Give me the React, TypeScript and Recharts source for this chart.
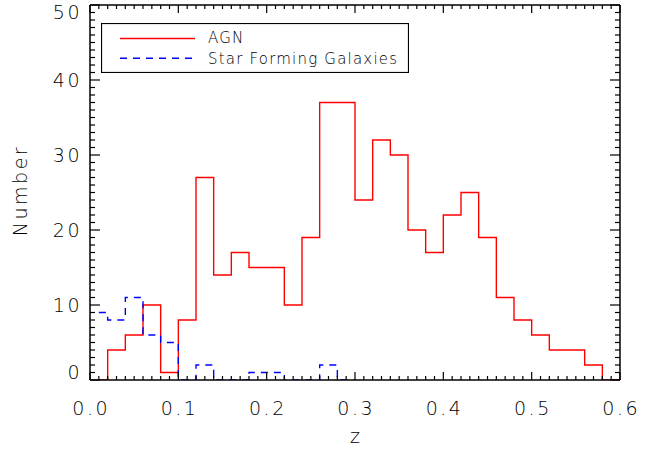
import { LineChart, Line, XAxis, YAxis, Legend } from "recharts";

// histogram bin centres (dz = 0.02) and counts per bin
const binCenters = [
  0.01, 0.03, 0.05, 0.07, 0.09, 0.11, 0.13, 0.15, 0.17, 0.19,
  0.21, 0.23, 0.25, 0.27, 0.29, 0.31, 0.33, 0.35, 0.37, 0.39,
  0.41, 0.43, 0.45, 0.47, 0.49, 0.51, 0.53, 0.55, 0.57, 0.59,
];
const agnCounts = [
  0, 4, 6, 10, 1, 8, 27, 14, 17, 15,
  15, 10, 19, 37, 37, 24, 32, 30, 20, 17,
  22, 25, 19, 11, 8, 6, 4, 4, 2, 0,
];
const sfCounts = [9, 8, 11, 6, 5, 0, 2, 0, 0, 1, 1, 0, 0, 2, 0];

// where each histogram line stops
const agnEnd = 0.6;
const sfEnd = 0.3;

const xMajorTicks = [0.0, 0.1, 0.2, 0.3, 0.4, 0.5, 0.6];
const yMajorTicks = [0, 10, 20, 30, 40, 50];
const X_DOMAIN: [number, number] = [0, 0.6];
const Y_DOMAIN: [number, number] = [0, 50];

const xTicks = Array.from({ length: 61 }, (_, i) => i / 100);
const yTicks = Array.from({ length: 51 }, (_, i) => i);

const toSteps = (counts: number[], end: number) => {
  const rows = counts.map((n, i) => ({ z: binCenters[i], n }));
  rows.push({ z: end, n: counts[counts.length - 1] });
  return rows;
};

const agnData = toSteps(agnCounts, agnEnd);
const sfData = toSteps(sfCounts, sfEnd);

const FONT = "'DejaVu Sans', sans-serif";
const isMajorX = (v: number) => xMajorTicks.some((t) => Math.abs(t - v) < 1e-6);
const isMajorY = (v: number) => yMajorTicks.includes(v);

function BottomTick({ x, y, payload }: any) {
  const major = isMajorX(payload.value);
  return (
    <g>
      <line x1={x} x2={x} y1={y} y2={y - (major ? 8 : 4)} stroke="#000" strokeWidth={1.2} />
      {major && (
        <text x={x + 1.2} y={y + 35} textAnchor="middle" fontFamily={FONT} fontSize={19}
          fontWeight={200} letterSpacing={2.5} fill="#000">
          {payload.value.toFixed(1)}
        </text>
      )}
    </g>
  );
}

function TopTick({ x, y, payload }: any) {
  const major = isMajorX(payload.value);
  return <line x1={x} x2={x} y1={y} y2={y + (major ? 8 : 4)} stroke="#000" strokeWidth={1.2} />;
}

function LeftTick({ x, y, payload }: any) {
  const v = payload.value;
  const major = isMajorY(v);
  const shift = v === Y_DOMAIN[1] ? 7.5 : v === Y_DOMAIN[0] ? -7.5 : 0;
  return (
    <g>
      <line x1={x} x2={x + (major ? 10 : 5)} y1={y} y2={y} stroke="#000" strokeWidth={1.2} />
      {major && (
        <text x={x - 8} y={y + shift} dy="0.365em" textAnchor="end" fontFamily={FONT}
          fontSize={19} fontWeight={200} letterSpacing={2.5} fill="#000">
          {v}
        </text>
      )}
    </g>
  );
}

function RightTick({ x, y, payload }: any) {
  const major = isMajorY(payload.value);
  return <line x1={x} x2={x - (major ? 10 : 5)} y1={y} y2={y} stroke="#000" strokeWidth={1.2} />;
}

function LegendBox({ payload }: any) {
  const items = payload || [];
  return (
    <svg width={308} height={50} style={{ display: "block" }}>
      <rect x={0.5} y={0.5} width={307} height={49} fill="#fff" stroke="#000" strokeWidth={1.2} />
      {items.map((p: any, i: number) => (
        <g key={p.value}>
          <line x1={19} x2={94} y1={15.5 + i * 19.7} y2={15.5 + i * 19.7} stroke={p.color}
            strokeWidth={1.4} strokeDasharray={p.payload?.strokeDasharray} />
          <text x={107} y={20 + i * 20.5} fontFamily={FONT} fontSize={15} fontWeight={200}
            letterSpacing={1.2} fill="#000">
            {p.value}
          </text>
        </g>
      ))}
    </svg>
  );
}

export default function App() {
  return (
    <div style={{ position: "absolute", left: 0, top: 0, background: "#fff" }}>
      <LineChart width={664} height={450} margin={{ top: 0, right: 0, bottom: 0, left: 0 }}>
        <XAxis
          dataKey="z"
          type="number"
          domain={X_DOMAIN}
          allowDataOverflow
          ticks={xTicks}
          interval={0}
          tickSize={0}
          tickMargin={0}
          height={70}
          tick={BottomTick}
          axisLine={{ stroke: "#000", strokeWidth: 1.5 }}
          tickLine={false}
          label={({ viewBox }: any) => (
            <text x={viewBox.x + viewBox.width / 2} y={viewBox.y + 63} textAnchor="middle"
              fontFamily={FONT} fontSize={19} fontWeight={200} fill="#000">
              z
            </text>
          )}
        />
        <XAxis
          xAxisId="top"
          orientation="top"
          dataKey="z"
          type="number"
          domain={X_DOMAIN}
          allowDataOverflow
          ticks={xTicks}
          interval={0}
          tickSize={0}
          tickMargin={0}
          height={5}
          tick={TopTick}
          axisLine={{ stroke: "#000", strokeWidth: 1.5 }}
          tickLine={false}
        />
        <YAxis
          type="number"
          domain={Y_DOMAIN}
          allowDataOverflow
          ticks={yTicks}
          interval={0}
          tickSize={0}
          tickMargin={0}
          width={90}
          tick={LeftTick}
          axisLine={{ stroke: "#000", strokeWidth: 1.5 }}
          tickLine={false}
          label={({ viewBox }: any) => {
            const cx = viewBox.x + 27;
            const cy = viewBox.y + viewBox.height / 2 - 2;
            return (
              <text x={cx} y={cy} transform={`rotate(-90, ${cx}, ${cy})`} textAnchor="middle"
                fontFamily={FONT} fontSize={19} fontWeight={200} letterSpacing={2.5} fill="#000">
                Number
              </text>
            );
          }}
        />
        <YAxis
          yAxisId="right"
          orientation="right"
          type="number"
          domain={Y_DOMAIN}
          allowDataOverflow
          ticks={yTicks}
          interval={0}
          tickSize={0}
          tickMargin={0}
          width={44}
          tick={RightTick}
          axisLine={{ stroke: "#000", strokeWidth: 1.5 }}
          tickLine={false}
        />
        <Line
          data={agnData}
          dataKey="n"
          name="AGN"
          type="step"
          stroke="#ff0000"
          strokeWidth={1.4}
          dot={false}
          activeDot={false}
          isAnimationActive={false}
        />
        <Line
          data={sfData}
          dataKey="n"
          name="Star Forming Galaxies"
          type="step"
          stroke="#0000ff"
          strokeWidth={1.4}
          strokeDasharray="7 6"
          dot={false}
          activeDot={false}
          isAnimationActive={false}
        />
        <Legend
          layout="horizontal"
          verticalAlign="middle"
          align="center"
          content={LegendBox}
          wrapperStyle={{ left: 101, top: 23, width: 308, height: 50 }}
        />
      </LineChart>
    </div>
  );
}
